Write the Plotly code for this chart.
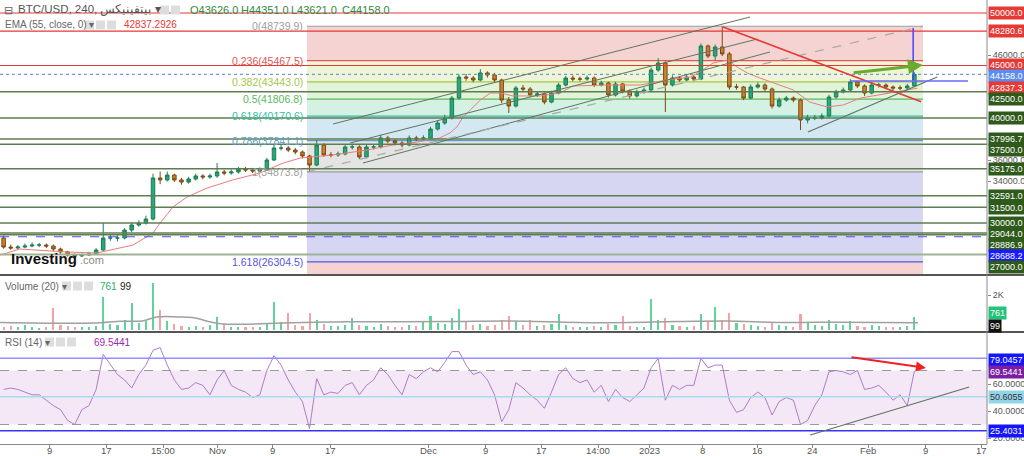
import plotly.graph_objects as go
import pandas as pd

# ---------------- data ----------------
dates = pd.date_range("2022-10-02 12:00", periods=129, freq="D")
first_open = 28570
close = [27710, 27620, 27710, 27810, 27900, 27900, 27810, 27520, 27240, 26950,
         26860, 26950, 27050, 27430, 28570, 28570, 28570, 29330, 29810, 30000,
         30380, 34290, 34100, 34570, 34100, 33900, 34190, 34480, 34380, 34480,
         34860, 34760, 34860, 35140, 35050, 34950, 35050, 36000, 37140, 37140,
         36950, 36760, 36380, 35520, 37430, 36480, 36480, 36570, 37240, 37240,
         36290, 37240, 37240, 38100, 37810, 37620, 37430, 38100, 38000, 38100,
         38950, 39520, 40000, 41900, 43900, 43810, 43620, 44290, 44100, 43620,
         41710, 41140, 42860, 42760, 42190, 42290, 41520, 42380, 43140, 43810,
         43710, 43710, 43810, 43140, 43330, 42190, 43240, 42570, 42100, 42480,
         42670, 44570, 45240, 43140, 43810, 43620, 43900, 43710, 46860, 45900,
         46760, 46100, 42950, 42950, 41900, 42950, 43140, 42760, 41140, 41710,
         41900, 41710, 39810, 40000, 40000, 40190, 42000, 42480, 42670, 43430,
         43050, 42380, 43140, 43140, 42950, 42860, 42860, 43050, 44158]
high = [28800, 27950, 27900, 28050, 28150, 28100, 28050, 27950, 27650, 27350,
        27100, 27100, 27250, 27600, 30000, 28900, 28850, 29500, 30050, 30250,
        30700, 34700, 34900, 34900, 34700, 34300, 34400, 34700, 34650, 34700,
        35710, 35050, 35100, 35350, 35350, 35250, 35300, 36200, 37500, 37450,
        37350, 37150, 36900, 36500, 37900, 37600, 36750, 36800, 37500, 37550,
        37400, 37450, 37500, 38400, 38300, 38000, 37800, 38350, 38300, 38350,
        39150, 39750, 40300, 42100, 44150, 44200, 44000, 44650, 44450, 44300,
        43750, 42000, 43050, 43150, 42950, 42550, 42450, 42600, 43350, 44000,
        44050, 43950, 44050, 43950, 43550, 43450, 43450, 43350, 42700, 42700,
        42900, 44800, 45700, 45400, 44050, 44000, 44150, 44100, 47100, 47000,
        47000, 48740, 46300, 43250, 43050, 43200, 43400, 43300, 42900, 41950,
        42100, 42050, 41850, 40300, 40300, 40450, 42200, 42700, 42900, 43700,
        43550, 43200, 43400, 43350, 43300, 43100, 43100, 43250, 44351]
low = [27550, 27450, 27480, 27600, 27700, 27700, 27600, 27300, 27050, 26800,
       26700, 26750, 26850, 26950, 27350, 28300, 28250, 28450, 29150, 29650,
       29850, 30250, 33700, 33950, 33900, 33650, 33750, 34050, 34150, 34200,
       34300, 34550, 34600, 34700, 34850, 34750, 34800, 34950, 35900, 36900,
       36750, 36550, 36150, 34874, 35400, 36300, 36250, 36300, 36450, 37000,
       36100, 36150, 37000, 37100, 37600, 37400, 37200, 37300, 37800, 37850,
       37950, 38800, 39350, 39850, 41750, 43550, 43400, 43500, 43850, 43450,
       41400, 40480, 41000, 42500, 42000, 42000, 41300, 41400, 42250, 43000,
       43500, 43500, 43550, 42950, 43000, 41950, 42050, 42350, 41850, 41950,
       42300, 42550, 44400, 40570, 43000, 43450, 43500, 43500, 43600, 45700,
       45500, 45900, 42700, 42700, 41700, 41800, 42800, 42550, 40900, 41000,
       41550, 41500, 38860, 39500, 39800, 39850, 40050, 41850, 42350, 42500,
       42850, 42100, 42250, 42900, 42750, 42650, 42650, 42700, 42950]
volume = [180, 220, 150, 260, 170, 140, 200, 1250, 300, 230,
          180, 200, 160, 250, 1900, 350, 280, 600, 1550, 400,
          500, 2700, 1150, 500, 350, 250, 200, 220, 180, 260,
          750, 350, 200, 180, 160, 150, 170, 400, 1600, 450,
          970, 300, 250, 970, 600, 350, 250, 220, 300, 700,
          300, 250, 200, 350, 250, 200, 180, 300, 220, 500,
          800, 400, 350, 700, 1200, 500, 300, 350, 250, 300,
          600, 800, 500, 300, 600, 250, 300, 350, 900, 300,
          200, 180, 200, 250, 200, 350, 300, 800, 250, 200,
          200, 1800, 600, 700, 300, 250, 200, 250, 900, 500,
          1300, 600, 1000, 400, 350, 300, 250, 200, 450, 300,
          250, 200, 900, 400, 300, 250, 600, 350, 300, 500,
          250, 200, 300, 250, 200, 180, 200, 250, 761]
rsi = [56, 57, 56, 54, 52, 52, 48, 44, 41, 33,
       30, 41, 44, 56, 82, 74, 67, 63, 57, 67,
       74, 85, 87, 74, 63, 56, 57, 61, 59, 52,
       63, 70, 59, 56, 54, 50, 52, 70, 81, 74,
       63, 54, 47, 27, 64, 52, 54, 53, 59, 61,
       52, 59, 63, 72, 67, 59, 52, 67, 64, 69,
       72, 69, 76, 84, 84, 74, 67, 69, 63, 52,
       32, 41, 61, 57, 52, 48, 42, 54, 67, 72,
       64, 61, 63, 54, 59, 47, 56, 50, 47, 52,
       57, 72, 79, 48, 59, 56, 59, 59, 79, 72,
       74, 74, 48, 39, 41, 50, 54, 50, 37, 47,
       50, 48, 30, 33, 44, 52, 69, 70, 69, 67,
       70, 56, 57, 59, 54, 48, 52, 44, 69.5441]

ema_dates = ["2022-10-02 00:00", "2022-10-04 19:00", "2022-10-11 10:00", "2022-10-15 14:00",
             "2022-10-20 17:00", "2022-10-23 12:00", "2022-10-24 12:00", "2022-10-26 07:00",
             "2022-10-28 07:00", "2022-10-31 02:00", "2022-11-03 17:00", "2022-11-07 12:00",
             "2022-11-10 19:00", "2022-11-13 05:00", "2022-11-17 19:00", "2022-11-22 14:00",
             "2022-11-26 05:00", "2022-11-29 14:00", "2022-12-02 19:00", "2022-12-04 05:00",
             "2022-12-05 05:00", "2022-12-06 02:00", "2022-12-07 02:00", "2022-12-08 12:00",
             "2022-12-09 22:00", "2022-12-11 07:00", "2022-12-13 02:00", "2022-12-16 22:00",
             "2022-12-19 17:00", "2022-12-21 12:00", "2022-12-26 07:00", "2022-12-31 00:00",
             "2023-01-03 17:00", "2023-01-07 00:00", "2023-01-08 19:00", "2023-01-10 05:00",
             "2023-01-12 05:00", "2023-01-13 14:00", "2023-01-15 00:00", "2023-01-16 19:00",
             "2023-01-21 12:00", "2023-01-23 19:00", "2023-01-26 05:00", "2023-01-28 12:00",
             "2023-01-30 22:00", "2023-02-02 07:00", "2023-02-04 12:00", "2023-02-07 22:00"]
ema_vals = [26950, 27520, 27240, 27140, 27900, 29050, 30000, 31520, 32480, 33330, 34100, 34760,
            35710, 36190, 36480, 36950, 37430, 37710, 38100, 38570, 39140, 40100, 40760, 41710,
            42380, 42380, 42100, 42100, 42380, 43050, 43140, 43140, 43620, 43900, 44570, 45240,
            45520, 44860, 44290, 43810, 42670, 41520, 41050, 41240, 41900, 42190, 42480, 42837.3]

vol_ma_dates = ["2022-10-02", "2022-10-15", "2022-10-19", "2022-10-22", "2022-10-24", "2022-10-27",
                "2022-10-29", "2022-11-02", "2022-11-12", "2022-11-20", "2022-12-04", "2022-12-12",
                "2022-12-25", "2023-01-05", "2023-01-12", "2023-01-20", "2023-01-28", "2023-02-08"]
vol_ma_vals = [430, 400, 500, 520, 740, 750, 720, 360, 420, 470, 480, 520, 420, 480, 520, 430, 450, 420]

red_levels = [50000, 48280.6, 45000]
green_levels = [42500, 40000, 37996.7, 37500, 35175, 32591, 31500, 30000, 29044, 28886.9]
grey_green_level = 27000
blue_dash_level = 28688.2
last_price = 44158.0

fib_start, fib_end = "2022-11-14 03:00", "2023-02-08 17:00"
fib_ratios = ["0", "0.236", "0.382", "0.5", "0.618", "0.786", "1", "1.618"]
fib_prices = [48739.9, 45467.5, 43443.0, 41806.8, 40170.6, 37841.1, 34873.8, 26304.5]

# trend-line anchors (date, value)
chan_a = [("2022-11-17 19:00", 39430), ("2023-01-15 10:00", 49620)]
chan_b = [("2022-11-20 05:00", 37620), ("2023-01-16 10:00", 47520)]
chan_c = [("2022-11-22 00:00", 35710), ("2023-01-18 05:00", 46290)]
fib_diag = [(fib_start, 34873.8), (fib_end, 48739.9)]
red_trend = [("2023-01-11 15:00", 48670), ("2023-02-08 11:00", 41550)]
low_trend = [("2023-01-23 13:00", 38670), ("2023-02-10 17:00", 43900)]
blue_h = [("2023-01-29 11:00", 43520), ("2023-02-15 01:00", 43520)]
blue_v = [("2023-02-07 08:00", 43620), ("2023-02-07 08:00", 48570)]
green_arrow = [("2023-01-29 18:00", 44290), ("2023-02-08 17:00", 45050)]
rsi_levels = {"upper": 79.0457, "mid": 50.6055, "lower": 25.4031}
rsi_arrow = [("2023-01-29 11:00", 80.0), ("2023-02-09 03:00", 71.9)]
rsi_trend = [("2023-01-23 21:00", 22.2), ("2023-02-15 05:00", 57.8)]

tick_dates = ["2022-10-09", "2022-10-17", "2022-10-24 22:00", "2022-11-01 12:00", "2022-11-09 06:00",
              "2022-11-17 09:00", "2022-12-01 04:00", "2022-12-09 07:00", "2022-12-17 01:00",
              "2022-12-25 01:00", "2023-01-01 05:00", "2023-01-08 19:00", "2023-01-16 10:00",
              "2023-01-24 03:00", "2023-02-01", "2023-02-09 03:00", "2023-02-17"]
tick_text = ["9", "17", "15:00", "Nov", "9", "17", "Dec", "9", "17", "14:00", "2023", "8",
             "16", "24", "Feb", "9", "17"]

# ---------------- layout helpers ----------------
PW, PH = 987, 444
FONT = "Liberation Sans, Arial, sans-serif"


def pxx(x):
    return x / PW


def pxy(y):
    return (PH - y) / PH


opens = [first_open] + close[:-1]
up = [c >= o for o, c in zip(opens, close)]
vol_colors = ["#5fd39a" if u else "#f3a3a3" for u in up]

fig = go.Figure()
fig.add_trace(go.Candlestick(
    x=dates, open=opens, high=high, low=low, close=close, xaxis="x", yaxis="y",
    increasing=dict(line=dict(color="#1e7d55", width=1), fillcolor="#25a87a"),
    decreasing=dict(line=dict(color="#7a4a12", width=1), fillcolor="#d0802e"),
    whiskerwidth=0, showlegend=False, hoverinfo="skip"))
fig.add_trace(go.Scatter(x=ema_dates, y=ema_vals, mode="lines", xaxis="x", yaxis="y",
                         line=dict(color="#f07a7a", width=1), hoverinfo="skip"))
fig.add_trace(go.Bar(x=dates, y=volume, marker_color=vol_colors, marker_line_width=0,
                     width=0.3 * 86400000, xaxis="x", yaxis="y2", hoverinfo="skip"))
fig.add_trace(go.Scatter(x=vol_ma_dates, y=vol_ma_vals, mode="lines", xaxis="x", yaxis="y2",
                         line=dict(color="#a0a0a0", width=1.5, shape="spline"), hoverinfo="skip"))
fig.add_trace(go.Scatter(x=dates, y=rsi, mode="lines", xaxis="x", yaxis="y3",
                         line=dict(color="#b07cc6", width=1), hoverinfo="skip"))

shapes = []
zone_colors = ["#f5d3d3", "#eef5d6", "#e1f3d8", "#d5f1e4", "#d4e8f4", "#e4e4e4", "#d6d6f3"]
level_colors = ["#9e9e9e", "#e05555", "#a6c64a", "#5cb85c", "#2fbf9f", "#5aa0d0", "#9e9e9e", "#5555dd"]
for i in range(len(fib_prices) - 1):
    shapes.append(dict(type="rect", xref="x", yref="y", x0=fib_start, x1=fib_end,
                       y0=fib_prices[i], y1=fib_prices[i + 1], fillcolor=zone_colors[i],
                       line=dict(width=0), layer="below"))
shapes.append(dict(type="rect", xref="x", yref="y", x0=fib_start, x1=fib_end,
                   y0=fib_prices[-1], y1=20000, fillcolor="#f5d3d3", line=dict(width=0), layer="below"))
for p, c in zip(fib_prices, level_colors):
    shapes.append(dict(type="line", xref="x", yref="y", x0=fib_start, x1=fib_end, y0=p, y1=p,
                       line=dict(color=c, width=1.2), layer="below"))

for lv in red_levels:
    shapes.append(dict(type="line", xref="paper", yref="y", x0=0, x1=1, y0=lv, y1=lv,
                       line=dict(color="#e53935", width=1.2)))
for lv in green_levels:
    shapes.append(dict(type="line", xref="paper", yref="y", x0=0, x1=1, y0=lv, y1=lv,
                       line=dict(color="#5f7d50", width=1.5)))
shapes.append(dict(type="line", xref="paper", yref="y", x0=0, x1=1, y0=grey_green_level,
                   y1=grey_green_level, line=dict(color="#9fb394", width=2)))
shapes.append(dict(type="line", xref="paper", yref="y", x0=0, x1=1, y0=blue_dash_level,
                   y1=blue_dash_level, line=dict(color="#4a4aff", width=1, dash="dash")))
shapes.append(dict(type="line", xref="paper", yref="y", x0=0, x1=1, y0=last_price,
                   y1=last_price, line=dict(color="#5b7fe0", width=1, dash="dot")))


def seg(pts, color, width, dash="solid", yref="y"):
    (xa, ya), (xb, yb) = pts
    return dict(type="line", xref="x", yref=yref, x0=xa, y0=ya, x1=xb, y1=yb,
                line=dict(color=color, width=width, dash=dash))


shapes += [seg(chan_a, "#5f7560", 1), seg(chan_b, "#5f7560", 1), seg(chan_c, "#5f7560", 1),
           seg(fib_diag, "#a8a8a8", 1.2, "dash"), seg(red_trend, "#e53935", 1.5),
           seg(low_trend, "#5f7560", 1.2), seg(blue_h, "#6a6aff", 1.5),
           seg(blue_v, "#4444ff", 1.5)]

# RSI pane
shapes.append(dict(type="rect", xref="paper", yref="y3", x0=0, x1=1, y0=30, y1=70,
                   fillcolor="#f4e8f6", line=dict(width=0), layer="below"))
for lv in (70, 30):
    shapes.append(dict(type="line", xref="paper", yref="y3", x0=0, x1=1, y0=lv, y1=lv,
                       line=dict(color="#999999", width=1, dash="dash")))
shapes.append(dict(type="line", xref="paper", yref="y3", x0=0, x1=1, y0=rsi_levels["upper"],
                   y1=rsi_levels["upper"], line=dict(color="#8f8fff", width=1.5)))
shapes.append(dict(type="line", xref="paper", yref="y3", x0=0, x1=1, y0=rsi_levels["mid"],
                   y1=rsi_levels["mid"], line=dict(color="#a6dcea", width=1.5)))
shapes.append(dict(type="line", xref="paper", yref="y3", x0=0, x1=1, y0=rsi_levels["lower"],
                   y1=rsi_levels["lower"], line=dict(color="#3535ff", width=1.5)))
shapes.append(seg(rsi_trend, "#5f7560", 1.2, yref="y3"))

# frame: pane separators and price scale border
for yp in (275, 332):
    shapes.append(dict(type="line", xref="paper", yref="paper", x0=0, x1=1024 / PW,
                       y0=pxy(yp), y1=pxy(yp), line=dict(color="#555555", width=2)))
shapes.append(dict(type="line", xref="paper", yref="paper", x0=1, x1=1, y0=0, y1=1,
                   line=dict(color="#8a8a8a", width=1)))

# small grey indicator icons
icon_rows = [(10, [160, 171]), (25, [85, 96, 107]), (286, [62, 73, 84]), (342, [45, 56, 67])]
for yy, xs in icon_rows:
    for xx in xs:
        shapes.append(dict(type="rect", xref="paper", yref="paper", x0=pxx(xx), x1=pxx(xx + 9),
                           y0=pxy(yy + 4.5), y1=pxy(yy - 4.5), fillcolor="#dddddd",
                           line=dict(width=0)))

ann = []


def txt(x, y, s, color="#555555", size=10, anchor="left", bold=False, bg=None, family=FONT):
    d = dict(xref="paper", yref="paper", x=pxx(x), y=pxy(y), text=("<b>%s</b>" % s) if bold else s,
             showarrow=False, xanchor=anchor, yanchor="middle",
             font=dict(color=color, size=size, family=family))
    if bg:
        d.update(bgcolor=bg, borderpad=1)
    ann.append(d)


# header
txt(2, 10, "⊟", "#666666", 11)
txt(16, 10, "BTC/USD, 240, بيتفينيكس ▾", "#555555", 11.5)
txt(188, 10, "O43626.0", "#2f8a3e", 11)
txt(239, 10, "H44351.0", "#2f8a3e", 11)
txt(289, 10, "L43621.0", "#2f8a3e", 11)
txt(340, 10, "C44158.0", "#2f8a3e", 11)
txt(3, 25, "EMA (55, close, 0) ▾", "#666666", 10)
txt(122, 25, "42837.2926", "#e53935", 10)
txt(3, 286, "Volume (20) ▾", "#666666", 10)
txt(98, 286, "761", "#26b06a", 10)
txt(118, 286, "99", "#222222", 10)
txt(3, 342, "RSI (14) ▾", "#666666", 10)
txt(92, 342, "69.5441", "#9c27b0", 10)

# watermark
txt(9, 258, "Investing", "#111111", 15, bold=True)
txt(78, 260, ".com", "#888888", 11)

# fib labels
for r, p, c in zip(fib_ratios, fib_prices, level_colors):
    ann.append(dict(xref="x", yref="y", x=fib_start, y=p, xanchor="right", yanchor="middle",
                    xshift=-2, showarrow=False, text="%s(%.1f)" % (r, p),
                    font=dict(color=c, size=10.5, family=FONT)))

# time-axis labels
for d, s in zip(tick_dates, tick_text):
    ann.append(dict(xref="x", yref="paper", x=d, y=pxy(450), xanchor="center", yanchor="middle",
                    showarrow=False, text=s, font=dict(color="#555555", size=9.5, family=FONT)))

# price scale label boxes: (text, pixel y, background, font colour)
RED, DG = "#e53935", "#2e5a1c"
price_boxes = [("50000.0", 13, RED, "white"), ("48280.6", 31, RED, "white"),
               ("45000.0", 65, RED, "white"), ("44158.0", 76, "#5b8dee", "white"),
               ("42837.3", 88, RED, "white"), ("42500.0", 99, DG, "white"),
               ("40000.0", 118, DG, "white"), ("37996.7", 139, DG, "white"),
               ("37500.0", 150, DG, "white"), ("35175.0", 169, DG, "white"),
               ("32591.0", 196, DG, "white"), ("31500.0", 208, DG, "white"),
               ("30000.0", 223, DG, "white"), ("29044.0", 234, DG, "white"),
               ("28886.9", 245, DG, "white"), ("28688.2", 256, "#1a1aff", "white"),
               ("27000.0", 267, DG, "white"),
               ("761", 313, "#22c27a", "white"), ("99", 326, "#111111", "white"),
               ("79.0457", 360, "#1414ff", "white"), ("69.5441", 372, "#7b1fa2", "white"),
               ("50.6055", 397, "#93d5e8", "#333333"), ("25.4031", 431, "#1414ff", "white")]
for s, yy, bg, fc in price_boxes:
    ann.append(dict(xref="paper", yref="paper", x=1, y=pxy(yy), xanchor="left", yanchor="middle",
                    xshift=1, showarrow=False, text=s, bgcolor=bg, borderpad=1,
                    font=dict(color=fc, size=9, family=FONT)))

# arrows
(gxa, gya), (gxb, gyb) = green_arrow
ann.append(dict(xref="x", yref="y", axref="x", ayref="y", x=gxb, y=gyb, ax=gxa, ay=gya,
                showarrow=True, arrowhead=2, arrowsize=1, arrowwidth=3, arrowcolor="#6aab2e",
                text=""))
(rxa, rya), (rxb, ryb) = rsi_arrow
ann.append(dict(xref="x", yref="y3", axref="x", ayref="y3", x=rxb, y=ryb, ax=rxa, ay=rya,
                showarrow=True, arrowhead=2, arrowsize=1, arrowwidth=2, arrowcolor="#ee2222",
                text=""))

axis_font = dict(size=9, color="#555555", family=FONT)
fig.update_layout(
    width=1024, height=456, margin=dict(l=0, r=37, t=0, b=12, autoexpand=False),
    paper_bgcolor="white", plot_bgcolor="white", showlegend=False,
    shapes=shapes, annotations=ann, bargap=0,
    xaxis=dict(domain=[0, 1], anchor="y3", type="date",
               range=["2022-10-01 23:50", "2023-02-17 17:00"],
               tickmode="array", tickvals=tick_dates, showticklabels=False,
               showgrid=False, zeroline=False, ticks="outside", ticklen=3, tickcolor="#888888",
               showline=True, linecolor="#888888", automargin=False,
               rangeslider=dict(visible=False)),
    yaxis=dict(domain=[pxy(274), 1], anchor="x", side="right", automargin=False,
               range=[25142.9, 51238.1], tickmode="array", tickvals=[46000, 36000, 34000],
               ticktext=["46000.0", "36000.0", "34000.0"], showgrid=False, zeroline=False,
               ticks="outside", ticklen=3, tickcolor="#888888", tickfont=axis_font),
    yaxis2=dict(domain=[pxy(331), pxy(276)], anchor="x", side="right", automargin=False,
                range=[-57, 3086], tickmode="array", tickvals=[2000], ticktext=["2K"],
                showgrid=False, zeroline=False, ticks="outside", ticklen=3,
                tickcolor="#888888", tickfont=axis_font),
    yaxis3=dict(domain=[0, pxy(333)], anchor="x", side="right", automargin=False,
                range=[15.56, 97.78], tickmode="array", tickvals=[60, 40, 20],
                ticktext=["60.0000", "40.0000", "20.0000"], showgrid=False, zeroline=False,
                ticks="outside", ticklen=3, tickcolor="#888888", tickfont=axis_font),
)

fig.write_html("out.html", config={"displayModeBar": False},
               post_script="document.body.style.margin='0';")
